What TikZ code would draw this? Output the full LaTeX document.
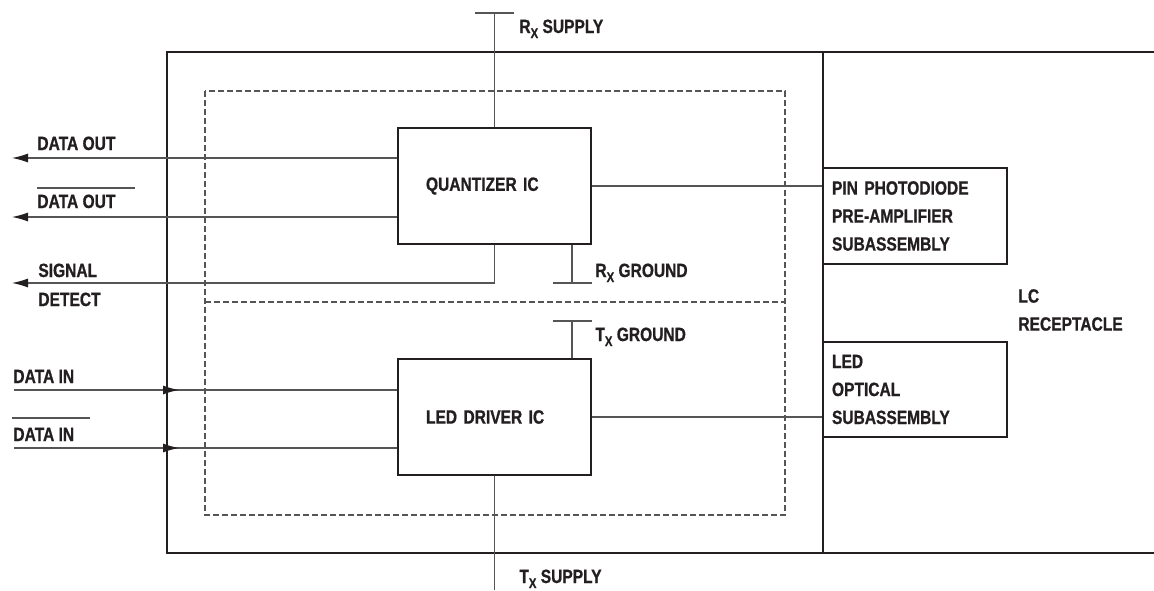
\documentclass[tikz,border=0pt]{standalone}
\usepackage{fontspec}
\setmainfont{Liberation Sans}[FakeStretch=0.81, BoldFeatures={FakeBold=0.8}]
\usetikzlibrary{arrows.meta}

\definecolor{inkgray}{RGB}{35,31,32}
\definecolor{wiregray}{RGB}{85,85,85}
\newcommand{\subx}[1]{\raisebox{-0.5ex}{\fontsize{7}{7}\selectfont #1}}

\begin{document}
\begin{tikzpicture}[x=0.5pt, y=-0.5pt,
  font=\fontsize{9.6}{14}\selectfont\bfseries, text=inkgray,
  frame/.style={draw=inkgray, line width=0.7pt},
  wire/.style={draw=wiregray, line width=0.55pt},
  outarrow/.style={wire, -{Latex[length=8pt,width=4.5pt,color=inkgray]}},
  icbox/.style={frame, minimum width=96.5pt, minimum height=58pt,
                text width=68.5pt, align=left, inner sep=0pt},
  subbox/.style={frame, minimum width=92pt, text width=83pt,
                 align=left, inner sep=4.5pt},
  lbl/.style={anchor=base west, inner sep=0pt}]
\useasboundingbox (0,0) rectangle (1154,590);

% module outline, receptacle and dashed IC area
\draw[frame] (167,52) rectangle (823,553);
\draw[frame] (823,52) -- (1154,52);
\draw[frame] (823,553) -- (1154,553);
\draw[wire, dashed, dash pattern=on 3pt off 1.5pt] (205,91) rectangle (785,515);
\draw[wire, dashed, dash pattern=on 3pt off 1.5pt] (205,302) -- (785,302);

% ICs and subassemblies
\node[icbox] (quant) at (494.5,186) {QUANTIZER IC};
\node[icbox] (drv) at (494.5,417) {LED DRIVER IC};
\node[subbox, minimum height=48pt] (pin) at (915,216)
      {PIN PHOTODIODE\\PRE-AMPLIFIER\\SUBASSEMBLY};
\node[subbox, minimum height=47.5pt] (led) at (915,389.5)
      {LED\\OPTICAL\\SUBASSEMBLY};
\node[anchor=west, align=left, inner sep=0pt] (lc) at (1018,310) {LC\\RECEPTACLE};

\draw[wire] (quant.east) -- (quant.east -| pin.west);
\draw[wire] (drv.east) -- (drv.east -| led.west);

% supplies and grounds
\coordinate (rxsup) at (494.5,13);
\coordinate (txsup) at (494.5,590);
\coordinate (rxgnd) at (572,283);
\coordinate (txgnd) at (572,321);
\draw[wire] (quant.north) -- (rxsup);
\draw[wire] ([xshift=-9.75pt]rxsup) -- ([xshift=9.75pt]rxsup);
\draw[wire] (drv.south) -- (txsup);
\draw[wire] (quant.south -| rxgnd) -- (rxgnd);
\draw[wire] ([xshift=-9.75pt]rxgnd) -- ([xshift=9.75pt]rxgnd);
\draw[wire] (drv.north -| txgnd) -- (txgnd);
\draw[wire] ([xshift=-9.75pt]txgnd) -- ([xshift=9.75pt]txgnd);
\node[lbl] (rxsuplbl) at (519,33) {R\subx{X} SUPPLY};
\node[lbl] (txsuplbl) at (519,583) {T\subx{X} SUPPLY};
\node[lbl] (rxgndlbl) at (595,277) {R\subx{X} GROUND};
\node[lbl] (txgndlbl) at (595,341) {T\subx{X} GROUND};

% outputs
\coordinate (dout) at (12,158);
\coordinate (doutb) at (12,217);
\coordinate (sd) at (12,283);
\draw[outarrow] (quant.west |- dout) -- (dout);
\draw[outarrow] (quant.west |- doutb) -- (doutb);
\draw[outarrow] (quant.south) |- (sd);
\node[lbl] (doutlbl) at (37,150) {DATA OUT};
\node[lbl] (doutblbl) at (37,208) {DATA OUT};
\draw[wire] (37,188) -- (135,188);
\node[lbl] (sdlbl) at (38,277) {SIGNAL};
\node[lbl] (sdlblb) at (38,306) {DETECT};

% inputs
\coordinate (din) at (14,390);
\coordinate (dintip) at (179,390);
\coordinate (dinb) at (14,448);
\coordinate (dinbtip) at (179,448);
\draw[wire] (din) -- (drv.west |- din);
\draw[outarrow] (din) -- (dintip);
\draw[wire] (dinb) -- (drv.west |- dinb);
\draw[outarrow] (dinb) -- (dinbtip);
\node[lbl] (dinlbl) at (13,383) {DATA IN};
\node[lbl] (dinblbl) at (13,441) {DATA IN};
\draw[wire] (12,418) -- (90,418);
\end{tikzpicture}
\end{document}
